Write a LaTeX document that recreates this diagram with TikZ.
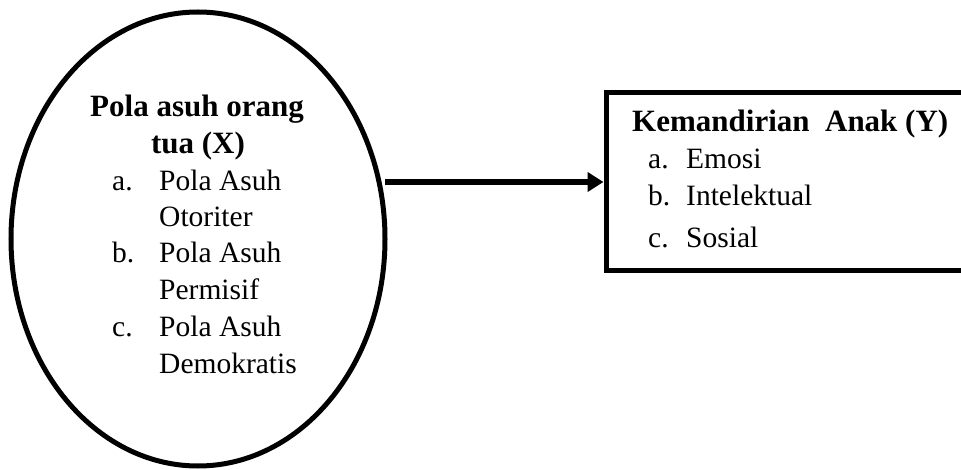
\documentclass[tikz,border=0pt]{standalone}
\usepackage{fontspec}
\setmainfont{Liberation Serif}
\usetikzlibrary{shapes.geometric,arrows.meta}
\tikzset{
  shapeline/.style={draw=black, line width=5pt},
  ttl/.style={inner sep=0pt, font=\fontsize{31}{36}\selectfont\bfseries},
  txt/.style={inner sep=0pt, anchor=base west, font=\fontsize{29.5}{36}\selectfont},
  conn/.style={line width=6pt, -{Triangle[length=16pt,width=19pt]}}
}
\begin{document}
\begin{tikzpicture}[x=1pt,y=-1pt]
\useasboundingbox (0,0) rectangle (961,470);
\clip (0,0) rectangle (961,470);
% shapes
\node[shapeline, ellipse, minimum width=374pt, minimum height=454pt, inner sep=0pt, outer sep=0pt] (ell) at (198,239) {};
\node[shapeline, rectangle, minimum width=369pt, minimum height=178pt, inner sep=0pt] (box) at (790.5,182) {};
% connector
\draw[conn] (ell.east |- box.west) -- (box.west);
% ellipse text
\node[ttl, anchor=base] (t1) at (197,117) {Pola asuh orang};
\node[ttl, anchor=base] (t2) at (198,154) {tua (X)};
\node[txt] (la) at (112,191) {a.};
\node[txt] (xa1) at (159,191) {Pola Asuh};
\node[txt] (xa2) at (159,227) {Otoriter};
\node[txt] (lb) at (112,263) {b.};
\node[txt] (xb1) at (159,263) {Pola Asuh};
\node[txt] (xb2) at (159,300) {Permisif};
\node[txt] (lc) at (112,336) {c.};
\node[txt] (xc1) at (159,336) {Pola Asuh};
\node[txt] (xc2) at (159,373) {Demokratis};
% box text
\node[ttl, anchor=base west] (y0) at (632,132) {Kemandirian\ \ Anak (Y)};
\node[txt] (ya) at (648,169) {a.};
\node[txt] (ya1) at (686,169) {Emosi};
\node[txt] (yb) at (648,206) {b.};
\node[txt] (yb1) at (686,206) {Intelektual};
\node[txt] (yc) at (648,248) {c.};
\node[txt] (yc1) at (686,248) {Sosial};
\end{tikzpicture}
\end{document}
